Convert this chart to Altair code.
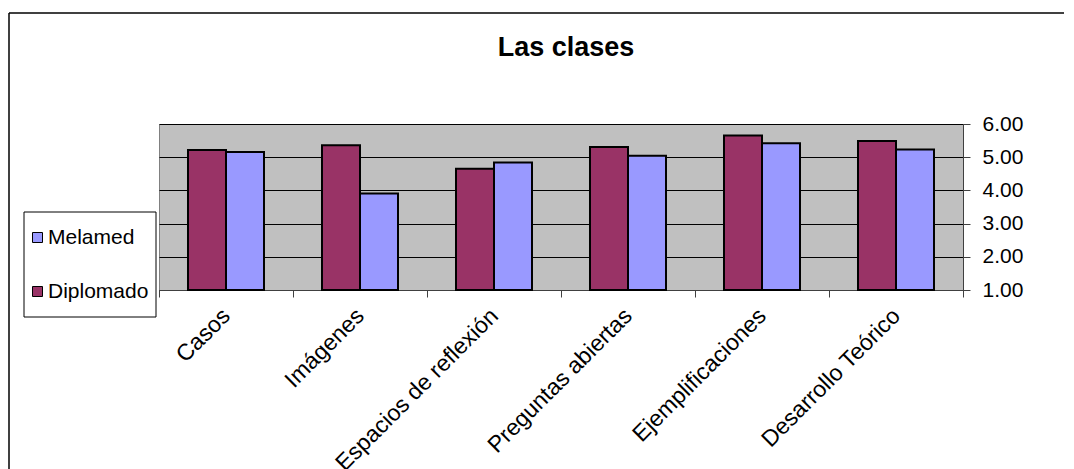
import altair as alt
import pandas as pd

categorias = ["Casos", "Imágenes", "Espacios de reflexión", "Preguntas abiertas",
              "Ejemplificaciones", "Desarrollo Teórico"]
series = ["Diplomado", "Melamed"]
diplomado = [5.22, 5.36, 4.65, 5.31, 5.65, 5.49]
melamed = [5.16, 3.91, 4.84, 5.04, 5.42, 5.23]
colores = ["#993366", "#9999FF"]
y_ticks = [1, 2, 3, 4, 5, 6]

rows = []
for c, d, m in zip(categorias, diplomado, melamed):
    rows.append({"Categoria": c, "Serie": "Diplomado", "Valor": d})
    rows.append({"Categoria": c, "Serie": "Melamed", "Valor": m})
df = pd.DataFrame(rows)

FONT = "Liberation Sans"

bars = alt.Chart(df).mark_bar(stroke="black", strokeWidth=2).encode(
    x=alt.X("Categoria:N", sort=categorias,
            scale=alt.Scale(paddingInner=0, paddingOuter=0),
            axis=alt.Axis(title=None, labelAngle=-45, labelAlign="right",
                          labelBaseline="middle", tickBand="extent", tickSize=7,
                          labelPadding=15, labelFontSize=23, labelFont=FONT,
                          labelLimit=400, labelColor="black", domainColor="#404040",
                          tickColor="#404040", grid=False)),
    xOffset=alt.XOffset("Serie:N", sort=series,
                        scale=alt.Scale(paddingInner=0, paddingOuter=0.763)),
    y=alt.Y("Valor:Q", scale=alt.Scale(domain=[1, 6]),
            axis=alt.Axis(orient="right", values=y_ticks, format=".2f", title=None,
                          grid=True, gridColor="black", gridOpacity=1, gridWidth=1,
                          tickSize=7, labelPadding=12, labelFontSize=21,
                          labelFont=FONT, labelColor="black",
                          domainColor="#404040", tickColor="#404040")),
    y2=alt.datum(1),
    color=alt.Color("Serie:N",
                    scale=alt.Scale(domain=series, range=colores),
                    legend=alt.Legend(title=None, orient="none", legendX=-132,
                                      legendY=103, values=["Melamed", "Diplomado"],
                                      padding=0, rowPadding=32,
                                      symbolType="square", symbolSize=100,
                                      symbolStrokeColor="black",
                                      symbolStrokeWidth=1, symbolOpacity=1,
                                      labelFontSize=21, labelFont=FONT,
                                      labelColor="black", labelOffset=0)),
)

frame_df = pd.DataFrame({"k": [0]})
legend_box = alt.Chart(frame_df).mark_rect(fill="white", stroke="black",
                                           strokeWidth=1).encode(
    x=alt.value(-135), x2=alt.value(-3), y=alt.value(88), y2=alt.value(193))
left_line = alt.Chart(frame_df).mark_rule(color="black", strokeWidth=1.5).encode(
    x=alt.value(-150), y=alt.value(-111), y2=alt.value(345))
top_line = alt.Chart(frame_df).mark_rule(color="black", strokeWidth=1.5).encode(
    x=alt.value(-150), x2=alt.value(905), y=alt.value(-111))

chart = alt.layer(legend_box, bars, left_line, top_line).properties(
    width=804, height=166,
    padding={"left": 0, "top": 4, "right": 0, "bottom": 0},
    title=alt.TitleParams("Las clases", fontSize=27, font=FONT, fontWeight="bold",
                          frame="group", anchor="middle", offset=66, dx=5, dy=116,
                          color="black"),
).configure_view(stroke="#808080", fill="#C0C0C0")

chart.save("out.html", embed_options={"renderer": "svg", "actions": False})
